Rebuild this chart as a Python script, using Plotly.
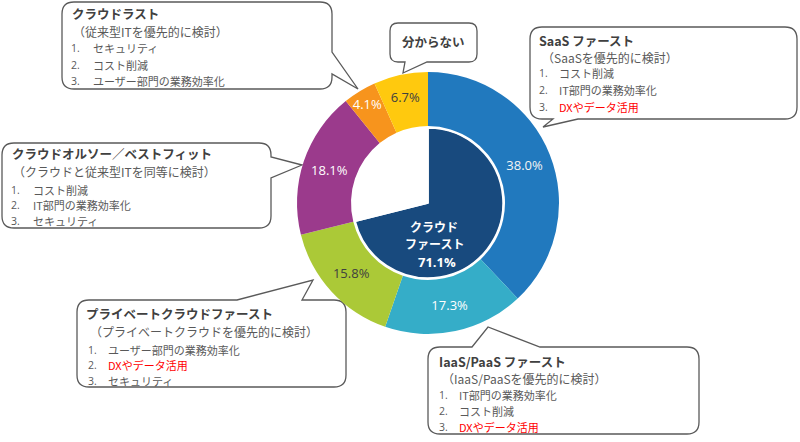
import plotly.graph_objects as go

W, H = 800, 442

# ---------------- data ----------------
segments = ["SaaS ファースト", "IaaS/PaaS ファースト", "プライベートクラウドファースト",
            "クラウドオルソー／ベストフィット", "クラウドラスト", "分からない"]
shares = [38.0, 17.3, 15.8, 18.1, 4.1, 6.7]
seg_colors = ["#2179BE", "#35ADC8", "#ABC937", "#9B3A8C", "#F7941D", "#FFC90E"]
label_colors = ["#F4F4F4", "#FFFFFF", "#404040", "#FFFFFF", "#FFFFFF", "#404040"]

inner_labels = ["クラウドファースト", "その他"]
inner_values = [71.1, 28.9]
inner_colors = ["#184A7E", "#FFFFFF"]
inner_caption = ["クラウド", "ファースト"]

callout_titles = ["クラウドラスト", "SaaS ファースト", "クラウドオルソー／ベストフィット",
                  "プライベートクラウドファースト", "IaaS/PaaS ファースト"]
callout_subtitles = ["（従来型ITを優先的に検討）", "（SaaSを優先的に検討）",
                     "（クラウドと従来型ITを同等に検討）",
                     "（プライベートクラウドを優先的に検討）", "（IaaS/PaaSを優先的に検討）"]
callout_items = [
    ["セキュリティ", "コスト削減", "ユーザー部門の業務効率化"],
    ["コスト削減", "IT部門の業務効率化", "DXやデータ活用"],
    ["コスト削減", "IT部門の業務効率化", "セキュリティ"],
    ["ユーザー部門の業務効率化", "DXやデータ活用", "セキュリティ"],
    ["IT部門の業務効率化", "コスト削減", "DXやデータ活用"],
]
highlight_item = "DXやデータ活用"
unknown_label = "分からない"

# ---------------- helpers ----------------
def px(x):
    return x / W


def py(y):
    return 1 - y / H


def P(x, y):
    return f"{px(x):.5f},{py(y):.5f}"


def callout_path(x0, y0, x1, y1, r, side, a, b, tip):
    tx, ty = tip
    d = [f"M{P(x0 + r, y0)}"]
    if side == "top":
        d += [f"L{P(a, y0)}", f"L{P(tx, ty)}", f"L{P(b, y0)}"]
    d += [f"L{P(x1 - r, y0)}", f"Q{P(x1, y0)} {P(x1, y0 + r)}"]
    if side == "right":
        d += [f"L{P(x1, a)}", f"L{P(tx, ty)}", f"L{P(x1, b)}"]
    d += [f"L{P(x1, y1 - r)}", f"Q{P(x1, y1)} {P(x1 - r, y1)}"]
    if side == "bottom":
        d += [f"L{P(b, y1)}", f"L{P(tx, ty)}", f"L{P(a, y1)}"]
    d += [f"L{P(x0 + r, y1)}", f"Q{P(x0, y1)} {P(x0, y1 - r)}"]
    d += [f"L{P(x0, y0 + r)}", f"Q{P(x0, y0)} {P(x0 + r, y0)}", "Z"]
    return " ".join(d)


JP = "Noto Sans CJK JP"
NUM = "Open Sans, Noto Sans CJK JP"
DARK = "#404040"
GRAY = "#595959"
RED = "#FF0000"

CX, CY, R_OUT, R_IN, R_CORE = 428, 203, 131, 77, 75

fig = go.Figure()

fig.add_trace(go.Pie(
    values=shares, labels=segments, sort=False, direction="clockwise", rotation=0,
    hole=R_IN / R_OUT,
    marker=dict(colors=seg_colors, line=dict(width=0)),
    texttemplate="%{value:.1f}%", textposition="inside",
    insidetextorientation="horizontal",
    textfont=dict(family=NUM, size=13, color=label_colors),
    domain=dict(x=[px(CX - R_OUT), px(CX + R_OUT)], y=[py(CY + R_OUT), py(CY - R_OUT)]),
    showlegend=False, hoverinfo="label+value",
))

fig.add_trace(go.Pie(
    values=inner_values, labels=inner_labels, sort=False, direction="clockwise", rotation=0,
    marker=dict(colors=inner_colors, line=dict(color="#FFFFFF", width=1.5)),
    textinfo="none",
    domain=dict(x=[px(CX - R_CORE), px(CX + R_CORE)], y=[py(CY + R_CORE), py(CY - R_CORE)]),
    showlegend=False, hoverinfo="label+value",
))

shapes = []
annotations = []


def text(x, y, s, size, color, bold=False, family=JP, xanchor="left"):
    annotations.append(dict(
        x=px(x), y=py(y), xref="paper", yref="paper", xanchor=xanchor, yanchor="middle",
        text=f"<b>{s}</b>" if bold else s, showarrow=False, borderpad=0,
        font=dict(family=family, size=size, color=color),
    ))


# box geometry: (x0, y0, x1, y1, r, side, a, b, tip)
boxes = [
    (62, 2, 332, 89, 12, "right", 52, 74, (358, 89)),
    (530, 27, 797, 119, 12, "bottom", 553, 578, (543, 127)),
    (2, 143, 271, 228, 12, "right", 157, 178, (302, 165)),
    (77, 300, 346, 387, 12, "top", 237, 302, (313, 280)),
    (428, 347, 699, 434, 12, "top", 472, 540, (488, 327)),
]
# text layout: title (x,y), subtitle (x,y), number x, item x, item ys
layouts = [
    ((71, 13), (72, 31.5), 70, 92, (48, 64.5, 80.5)),
    ((538, 40), (541, 57.5), 538, 558, (73.5, 90.5, 107)),
    ((11, 153.5), (12, 171.5), 10, 32, (189.5, 205, 220.5)),
    ((85, 313.5), (89, 331.5), 86.5, 107, (349.5, 365, 380.5)),
    ((438, 361), (441, 378), 438, 458, (395, 411, 427)),
]

for bx, lay, title, sub, items in zip(boxes, layouts, callout_titles, callout_subtitles, callout_items):
    shapes.append(dict(type="path", xref="paper", yref="paper", layer="below",
                       path=callout_path(*bx),
                       line=dict(color="#5A5A5A", width=1.3), fillcolor="#FFFFFF"))
    (tx, ty), (sx, sy), nx, ix, iys = lay
    text(tx, ty, title, 12.5, DARK, bold=True)
    text(sx, sy, sub, 12, GRAY)
    for k, (item, iy) in enumerate(zip(items, iys)):
        text(nx, iy, f"{k + 1}.", 10.5, GRAY, family=NUM)
        text(ix, iy, item, 11, RED if item == highlight_item else GRAY)

# "分からない" box
shapes.append(dict(type="path", xref="paper", yref="paper", layer="below",
                   path=callout_path(390, 23, 477, 62, 8, "bottom", 405, 427, (403, 73)),
                   line=dict(color="#5A5A5A", width=1.3), fillcolor="#FFFFFF"))
text(433, 41, unknown_label, 12.5, DARK, bold=True, xanchor="center")

# centre label
text(434, 226.5, inner_caption[0], 12, "#FFFFFF", bold=True, xanchor="center")
text(434, 243.5, inner_caption[1], 12, "#FFFFFF", bold=True, xanchor="center")
text(437, 261.5, f"{inner_values[0]:.1f}%", 13, "#FFFFFF", bold=True, family=NUM, xanchor="center")

fig.update_layout(
    width=W, height=H, margin=dict(l=0, r=0, t=0, b=0),
    paper_bgcolor="#FFFFFF", plot_bgcolor="#FFFFFF",
    uniformtext=dict(minsize=13, mode="show"),
    shapes=shapes, annotations=annotations, showlegend=False,
)

fig.write_html("out.html")
